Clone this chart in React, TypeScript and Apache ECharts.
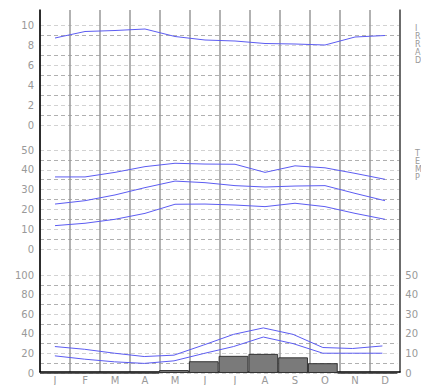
import React, { useEffect, useRef } from "react";
import * as echarts from "echarts";

const months = ["J", "F", "M", "A", "M", "J", "J", "A", "S", "O", "N", "D"];
const irrad = [8.7, 9.35, 9.45, 9.6, 8.85, 8.5, 8.4, 8.15, 8.1, 8.0, 8.8, 8.95];
const tempHigh = [36.4, 36.4, 38.7, 41.6, 43.3, 42.9, 42.8, 38.7, 42.0, 41.0, 38.2, 35.2];
const tempMid = [22.7, 24.4, 27.3, 31.0, 34.3, 33.5, 32.0, 31.3, 31.8, 32.0, 28.1, 24.4];
const tempLow = [11.8, 13.0, 15.0, 18.0, 22.6, 22.7, 22.2, 21.4, 23.1, 21.4, 18.0, 15.0];
const precip = [0, 0, 0, 0, 3, 12, 17.5, 19.5, 16, 10, 0, 0];
const lineUpper = [27, 24.2, 20.2, 16.8, 18.2, 28.6, 39.4, 46, 39.4, 26, 25, 27.6];
const lineLower = [17.5, 14.1, 11.4, 9.8, 12.4, 19.9, 27, 36.7, 30, 20.2, 20.2, 20.2];

const FONT = "DejaVu Sans";
const LABEL = "#999";
const BLUE = "#5c5cf2";

function dashedY(gridIndex: number, max: number, interval: number, every: number) {
  return {
    type: "value",
    gridIndex,
    min: 0,
    max,
    interval,
    axisLine: { show: false },
    axisTick: { show: false },
    axisLabel: {
      color: LABEL,
      fontSize: 10,
      fontFamily: FONT,
      margin: 6,
      formatter: (v: number) => (Math.round(v) % every === 0 ? String(v) : ""),
    },
    splitLine: {
      show: true,
      lineStyle: { color: ["#d2d2d2", "#b0b0b0"], type: [4, 3], width: 1 },
    },
  };
}

function hiddenX(gridIndex: number) {
  return {
    type: "category",
    gridIndex,
    data: months,
    boundaryGap: true,
    show: false,
  };
}

export default function App() {
  const ref = useRef<HTMLDivElement>(null);
  useEffect(() => {
    if (!ref.current) return;
    const chart = echarts.init(ref.current, undefined, { renderer: "svg" });
    const lineS = (data: number[], xi: number, yi: number) => ({
      type: "line",
      data,
      xAxisIndex: xi,
      yAxisIndex: yi,
      symbol: "none",
      lineStyle: { color: BLUE, width: 1 },
      z: 5,
    });
    chart.setOption({
      animation: false,
      backgroundColor: "#fff",
      textStyle: { fontFamily: FONT },
      grid: [
        { left: 40, right: 21, top: 10, bottom: 12 },
        { left: 40, right: 21, top: 25, height: 100 },
        { left: 40, right: 21, top: 150, height: 99 },
        { left: 40, right: 21, top: 275, height: 98 },
      ],
      xAxis: [
        {
          type: "category",
          gridIndex: 0,
          data: months,
          boundaryGap: true,
          axisLine: { show: true, lineStyle: { color: "#000", width: 1.5 } },
          axisTick: { show: false },
          axisLabel: { color: LABEL, fontSize: 10, fontFamily: FONT, margin: 3 },
          splitLine: { show: true, lineStyle: { color: "#999", width: 1.5 } },
        },
        hiddenX(1),
        hiddenX(2),
        hiddenX(3),
      ],
      yAxis: [
        {
          type: "value",
          gridIndex: 0,
          min: 0,
          max: 1,
          axisLine: { show: true, lineStyle: { color: "#000", width: 1.5 } },
          axisTick: { show: false },
          axisLabel: { show: false },
          splitLine: { show: false },
        },
        {
          type: "value",
          gridIndex: 0,
          position: "right",
          min: 0,
          max: 1,
          axisLine: { show: true, onZero: false, lineStyle: { color: "#555", width: 1.5 } },
          axisTick: { show: false },
          axisLabel: { show: false },
          splitLine: { show: false },
        },
        dashedY(1, 10, 1, 2),
        dashedY(2, 50, 5, 10),
        dashedY(3, 100, 10, 20),
        {
          type: "value",
          gridIndex: 3,
          position: "right",
          min: 0,
          max: 50,
          interval: 5,
          axisLine: { show: false },
          axisTick: { show: false },
          splitLine: { show: false },
          axisLabel: {
            color: LABEL,
            fontSize: 10,
            fontFamily: FONT,
            margin: 8,
            formatter: (v: number) => (Math.round(v) % 10 === 0 ? String(v) : ""),
          },
        },
      ],
      series: [
        lineS(irrad, 1, 2),
        lineS(tempHigh, 2, 3),
        lineS(tempMid, 2, 3),
        lineS(tempLow, 2, 3),
        {
          type: "bar",
          data: precip,
          xAxisIndex: 3,
          yAxisIndex: 4,
          barCategoryGap: "0%",
          itemStyle: { color: "#7a7a7a", borderColor: "#333", borderWidth: 1 },
          z: 3,
        },
        lineS(lineUpper, 3, 4),
        lineS(lineLower, 3, 4),
      ],
      graphic: [
        {
          type: "text",
          left: 415,
          top: 24,
          style: { text: "I\nR\nR\nA\nD", fill: LABEL, fontSize: 8, lineHeight: 8, fontFamily: FONT },
        },
        {
          type: "text",
          left: 415,
          top: 149,
          style: { text: "T\nE\nM\nP", fill: LABEL, fontSize: 8, lineHeight: 8, fontFamily: FONT },
        },
      ],
    });
    return () => chart.dispose();
  }, []);
  return <div ref={ref} style={{ width: 421, height: 385, position: "absolute", left: 0, top: 0 }} />;
}
